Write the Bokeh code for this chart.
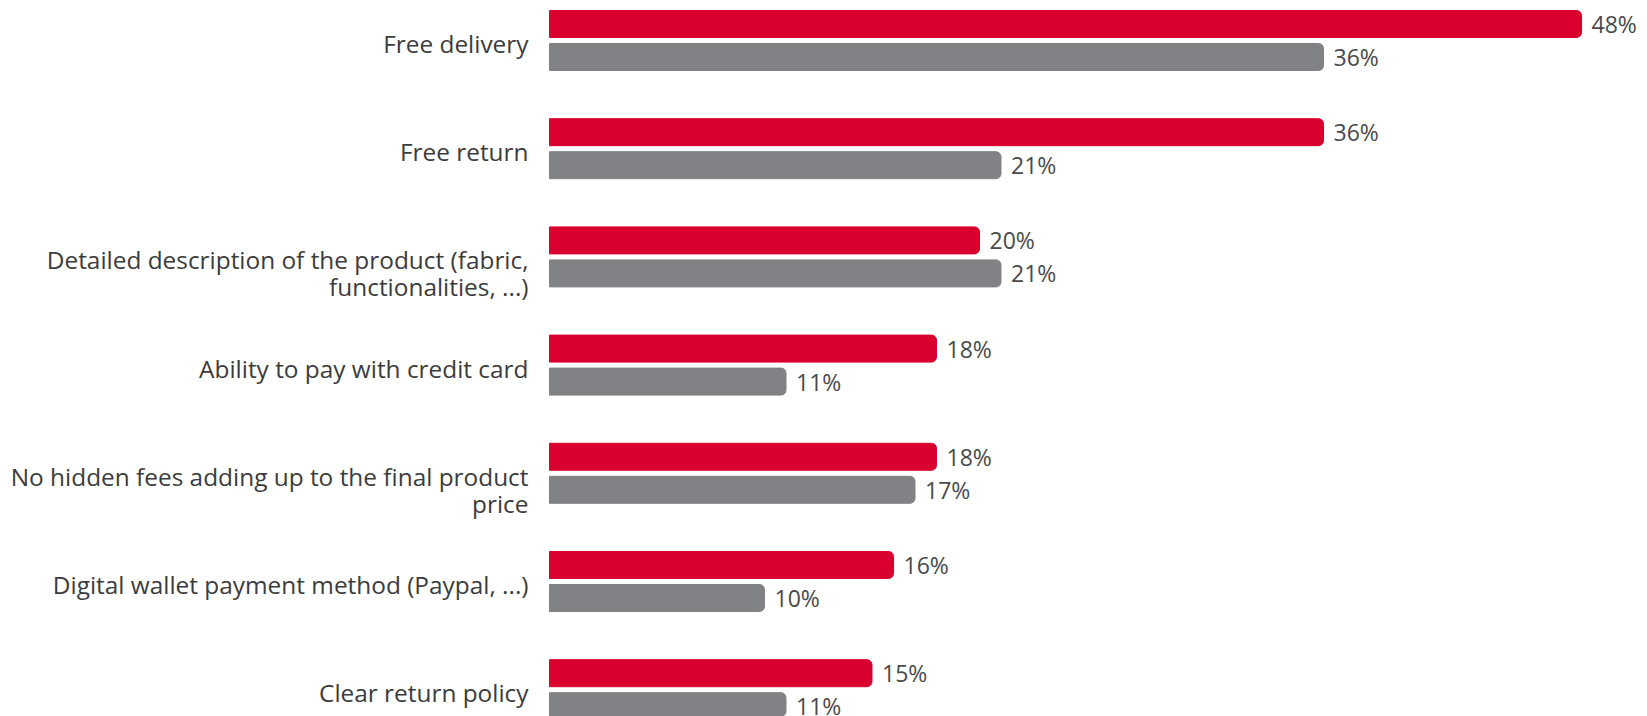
from bokeh.plotting import figure
from bokeh.models import ColumnDataSource, Range1d
from bokeh.core.properties import value
from bokeh.embed import file_html
from bokeh.resources import INLINE

categories = [
    "Free delivery",
    "Free return",
    "Detailed description of the product (fabric,\nfunctionalities, ...)",
    "Ability to pay with credit card",
    "No hidden fees adding up to the final product\nprice",
    "Digital wallet payment method (Paypal, ...)",
    "Clear return policy",
]
series_red = [48, 36, 20, 18, 18, 16, 15]
series_gray = [36, 21, 21, 11, 17, 10, 11]

RED = "#D9002F"
GRAY = "#808285"
FONT = "Open Sans"

W, H = 1647, 716
px_per_unit_x = 21.5
left_px = 549
px_per_cat = 108.2
first_center_px = 40

x_start = -left_px / px_per_unit_x
x_end = (W - left_px) / px_per_unit_x
y_top = -first_center_px / px_per_cat
y_bottom = (H - first_center_px) / px_per_cat

p = figure(width=W, height=H, output_backend="svg", toolbar_location=None,
           x_range=Range1d(x_start, x_end), y_range=Range1d(y_bottom, y_top),
           min_border=0, outline_line_color=None)
p.axis.visible = False
p.grid.visible = False
p.background_fill_color = "white"
p.border_fill_color = "white"

idx = list(range(len(categories)))
off = 16.5 / px_per_cat
bh = 27 / px_per_cat
src = ColumnDataSource(dict(
    y_red=[i - off for i in idx], y_gray=[i + off for i in idx],
    red=series_red, gray=series_gray,
    red_lbl=[f"{v}%" for v in series_red], gray_lbl=[f"{v}%" for v in series_gray],
))

p.hbar(y="y_red", left=0, right="red", height=bh, source=src, color=RED,
       border_radius=(0, 5, 5, 0))
p.hbar(y="y_gray", left=0, right="gray", height=bh, source=src, color=GRAY,
       border_radius=(0, 5, 5, 0))

p.text(x="red", y="y_red", text="red_lbl", source=src, x_offset=10,
       text_align="left", text_baseline="middle", text_font=value(FONT),
       text_font_size="23px", text_color="#4a4a4a")
p.text(x="gray", y="y_gray", text="gray_lbl", source=src, x_offset=10,
       text_align="left", text_baseline="middle", text_font=value(FONT),
       text_font_size="23px", text_color="#4a4a4a")

# category labels, line by line
for i, lab in enumerate(categories):
    lines = lab.split("\n")
    for j, ln in enumerate(lines):
        p.text(x=[0], y=[i], text=[ln], x_offset=-21, y_offset=j * 27 + 3,
               text_align="right", text_baseline="middle",
               text_font=value(FONT), text_font_size="24.4px", text_color="#3c3c3c")

open("out.html", "w").write(file_html(p, INLINE))
